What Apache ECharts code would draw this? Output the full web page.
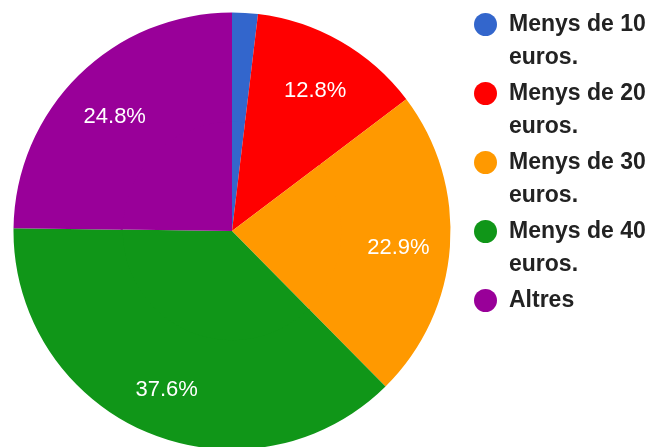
<!DOCTYPE html>
<html>
<head>
<meta charset="utf-8">
<script src="https://cdn.jsdelivr.net/npm/echarts@6/dist/echarts.min.js"></script>
<style>
html,body{margin:0;padding:0;background:#fff;}
#chart{width:652px;height:447px;}
</style>
</head>
<body>
<div id="chart"></div>
<script>
const categories = ['Menys de 10 euros.', 'Menys de 20 euros.', 'Menys de 30 euros.', 'Menys de 40 euros.', 'Altres'];
const values = [1.9, 12.8, 22.9, 37.6, 24.8];
const colors = ['#3366cc', '#ff0000', '#ff9900', '#109618', '#990099'];

const data = categories.map((c, i) => ({ name: c, value: values[i], itemStyle: { color: colors[i] } }));
const R = 218.5;

const chart = echarts.init(document.getElementById('chart'), null, { renderer: 'canvas' });
chart.setOption({
  animation: false,
  color: colors,
  legend: {
    orient: 'vertical',
    left: 474,
    top: -25,
    padding: 0,
    itemGap: -30,
    itemWidth: 23,
    itemHeight: 23,
    icon: 'circle',
    selectedMode: false,
    data: categories,
    formatter: function (name) {
      const i = name.indexOf(' euros.');
      return i >= 0 ? name.slice(0, i) + '\n' + 'euros.' : name + '\n ';
    },
    textStyle: {
      fontFamily: 'Liberation Sans, Arial, sans-serif',
      fontSize: 23,
      fontWeight: 'bold',
      color: '#222222',
      lineHeight: 33,
      padding: [33, 0, 0, 7],
      rich: { b: { fontWeight: 'bold' } }
    }
  },
  series: [
    {
      type: 'pie',
      center: [232, 231],
      radius: [0, R * 0.5 + 2],
      startAngle: 90,
      clockwise: true,
      silent: true,
      label: { show: false },
      labelLine: { show: false },
      data: data
    },
    {
      type: 'pie',
      center: [232, 231],
      radius: [R * 0.5, R],
      startAngle: 90,
      clockwise: true,
      silent: true,
      minShowLabelAngle: 10,
      label: {
        show: true,
        position: 'inside',
        color: '#ffffff',
        fontFamily: 'Liberation Sans, Arial, sans-serif',
        fontSize: 22,
        offset: [0, 5],
        formatter: function (p) { return p.value.toFixed(1) + '%'; }
      },
      labelLine: { show: false },
      data: data
    }
  ]
});
</script>
</body>
</html>
